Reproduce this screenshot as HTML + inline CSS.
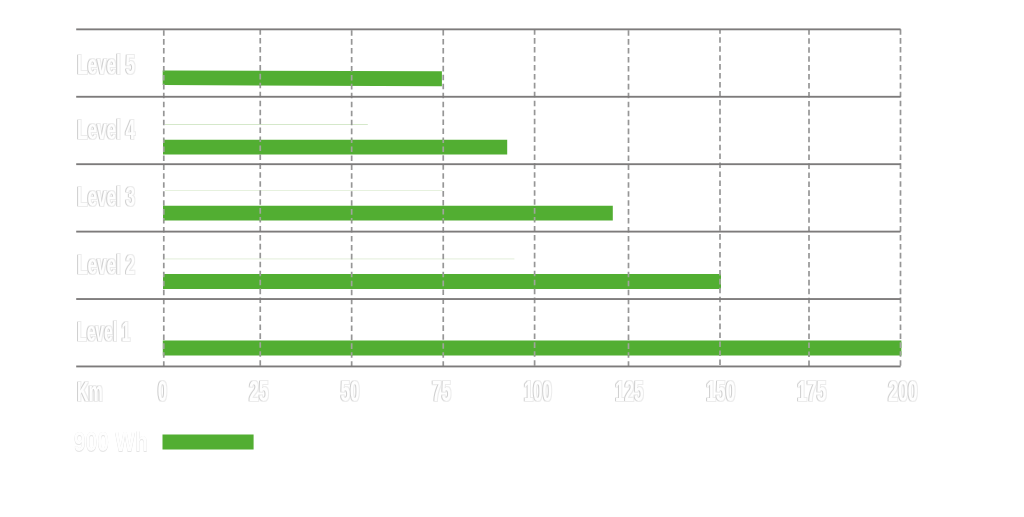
<!DOCTYPE html>
<html lang="en">
<head>
<meta charset="utf-8">
<title>Range chart</title>
<style>
html,body{margin:0;padding:0;background:#fff;}
body{width:1024px;height:517px;overflow:hidden;position:relative;font-family:"Liberation Sans",sans-serif;}
svg{position:absolute;left:0;top:0;display:block;}
.t{font-family:"Liberation Sans",sans-serif;font-weight:bold;font-size:27.2px;fill:#fefefe;}
.ax{font-size:29.4px;}

</style>
</head>
<body>
<svg width="1024" height="517" viewBox="0 0 1024 517">
<defs>
<filter id="fr" filterUnits="userSpaceOnUse" x="0" y="0" width="1024" height="517" color-interpolation-filters="sRGB">
<feMorphology in="SourceAlpha" operator="dilate" radius="0.5" result="d0"/>
<feFlood flood-color="#000" flood-opacity="0.075" result="c0"/>
<feComposite in="c0" in2="d0" operator="in" result="s0"/>
<feFlood flood-color="#000" flood-opacity="0.13" result="c1"/>
<feOffset in="SourceAlpha" dx="-0.75" dy="0" result="o1"/>
<feComposite in="c1" in2="o1" operator="in" result="s1"/>
<feMerge><feMergeNode in="s0"/><feMergeNode in="s1"/><feMergeNode in="SourceGraphic"/></feMerge>
</filter>
<filter id="fr2" filterUnits="userSpaceOnUse" x="0" y="0" width="1024" height="517" color-interpolation-filters="sRGB">
<feFlood flood-color="#000" flood-opacity="0.10" result="c1"/>
<feOffset in="SourceAlpha" dx="0" dy="-0.5" result="o1"/>
<feComposite in="c1" in2="o1" operator="in" result="s1"/>
<feOffset in="SourceAlpha" dx="0" dy="0.5" result="o2"/>
<feComposite in="c1" in2="o2" operator="in" result="s2"/>
<feMerge><feMergeNode in="s2"/><feMergeNode in="s1"/><feMergeNode in="SourceGraphic"/></feMerge>
</filter>
<clipPath id="bc"><polygon points="162.7,70.4 441.9,71.25 441.9,86.2 162.7,85.1"/><polygon points="163.0,139.7 507.2,139.8 507.2,154.55 163.0,154.4"/><polygon points="163.0,205.7 612.8,205.75 612.8,220.6 163.0,220.6"/><polygon points="163.0,274.1 721.0,273.9 721.0,289.0 163.0,289.0"/><polygon points="162.8,340.4 901.4,340.4 901.4,355.5 162.8,355.5"/></clipPath></defs>
<rect x="164.9" y="124.05" width="202.90" height="0.7" fill="#c3deb4"/>
<rect x="164.9" y="190.00" width="277.60" height="0.7" fill="#dcebd0"/>
<rect x="164.9" y="258.25" width="349.50" height="1.3" fill="#e9f2e2"/>
<g>
<line x1="163.78" y1="29.0" x2="163.78" y2="366.0" stroke="#969696" stroke-width="1.7" stroke-dasharray="5.55 3.398" stroke-dashoffset="7.796"/>
<line x1="260.25" y1="29.0" x2="260.25" y2="366.0" stroke="#969696" stroke-width="1.7" stroke-dasharray="5.55 3.398" stroke-dashoffset="8.826"/>
<line x1="351.66" y1="29.0" x2="351.66" y2="366.0" stroke="#969696" stroke-width="1.7" stroke-dasharray="5.55 3.398" stroke-dashoffset="7.796"/>
<line x1="443.25" y1="29.0" x2="443.25" y2="366.0" stroke="#969696" stroke-width="1.7" stroke-dasharray="5.55 3.398" stroke-dashoffset="7.896"/>
<line x1="534.6" y1="29.0" x2="534.6" y2="366.0" stroke="#969696" stroke-width="1.7" stroke-dasharray="5.55 3.398" stroke-dashoffset="8.796"/>
<line x1="628.5" y1="29.0" x2="628.5" y2="366.0" stroke="#969696" stroke-width="1.7" stroke-dasharray="5.55 3.398" stroke-dashoffset="7.796"/>
<line x1="720.0" y1="29.0" x2="720.0" y2="366.0" stroke="#969696" stroke-width="1.7" stroke-dasharray="5.55 3.398" stroke-dashoffset="0.698"/>
<line x1="809.0" y1="29.0" x2="809.0" y2="366.0" stroke="#969696" stroke-width="1.7" stroke-dasharray="5.55 3.398" stroke-dashoffset="8.646"/>
<line x1="900.5" y1="29.0" x2="900.5" y2="366.0" stroke="#969696" stroke-width="1.7" stroke-dasharray="5.55 3.398" stroke-dashoffset="8.796"/>
</g>
<polygon points="162.7,70.4 441.9,71.25 441.9,86.2 162.7,85.1" fill="#52ae32"/>
<polygon points="163.0,139.7 507.2,139.8 507.2,154.55 163.0,154.4" fill="#52ae32"/>
<polygon points="163.0,205.7 612.8,205.75 612.8,220.6 163.0,220.6" fill="#52ae32"/>
<polygon points="163.0,274.1 721.0,273.9 721.0,289.0 163.0,289.0" fill="#52ae32"/>
<polygon points="162.8,340.4 901.4,340.4 901.4,355.5 162.8,355.5" fill="#52ae32"/>
<polygon points="162.5,434.4 253.6,434.4 253.6,449.45 162.5,449.45" fill="#52ae32"/>
<g clip-path="url(#bc)">
<line x1="163.78" y1="29.0" x2="163.78" y2="366.0" stroke="#a0a59b" stroke-width="1.7" stroke-dasharray="5.55 3.398" stroke-dashoffset="7.796"/>
<line x1="260.25" y1="29.0" x2="260.25" y2="366.0" stroke="#a0a59b" stroke-width="1.7" stroke-dasharray="5.55 3.398" stroke-dashoffset="8.826"/>
<line x1="351.66" y1="29.0" x2="351.66" y2="366.0" stroke="#a0a59b" stroke-width="1.7" stroke-dasharray="5.55 3.398" stroke-dashoffset="7.796"/>
<line x1="443.25" y1="29.0" x2="443.25" y2="366.0" stroke="#a0a59b" stroke-width="1.7" stroke-dasharray="5.55 3.398" stroke-dashoffset="7.896"/>
<line x1="534.6" y1="29.0" x2="534.6" y2="366.0" stroke="#a0a59b" stroke-width="1.7" stroke-dasharray="5.55 3.398" stroke-dashoffset="8.796"/>
<line x1="628.5" y1="29.0" x2="628.5" y2="366.0" stroke="#a0a59b" stroke-width="1.7" stroke-dasharray="5.55 3.398" stroke-dashoffset="7.796"/>
<line x1="720.0" y1="29.0" x2="720.0" y2="366.0" stroke="#a0a59b" stroke-width="1.7" stroke-dasharray="5.55 3.398" stroke-dashoffset="0.698"/>
<line x1="809.0" y1="29.0" x2="809.0" y2="366.0" stroke="#a0a59b" stroke-width="1.7" stroke-dasharray="5.55 3.398" stroke-dashoffset="8.646"/>
<line x1="900.5" y1="29.0" x2="900.5" y2="366.0" stroke="#a0a59b" stroke-width="1.7" stroke-dasharray="5.55 3.398" stroke-dashoffset="8.796"/>
</g>
<rect x="76.2" y="28.42" width="824.40" height="1.86" fill="#7d7b7b"/>
<rect x="76.2" y="95.84" width="824.40" height="1.86" fill="#7d7b7b"/>
<rect x="76.2" y="163.26" width="824.40" height="1.86" fill="#7d7b7b"/>
<rect x="76.2" y="230.68" width="824.40" height="1.86" fill="#7d7b7b"/>
<rect x="76.2" y="298.10" width="824.40" height="1.86" fill="#7d7b7b"/>
<rect x="76.2" y="365.52" width="824.40" height="1.86" fill="#7d7b7b"/>
<g filter="url(#fr)">
<text class="t" x="77.1" y="73.6" textLength="57.8" lengthAdjust="spacingAndGlyphs">Level 5</text>
<text class="t" x="77.1" y="138.8" textLength="57.8" lengthAdjust="spacingAndGlyphs">Level 4</text>
<text class="t" x="77.1" y="206.4" textLength="57.8" lengthAdjust="spacingAndGlyphs">Level 3</text>
<text class="t" x="77.1" y="274.0" textLength="57.8" lengthAdjust="spacingAndGlyphs">Level 2</text>
<text class="t" x="77.1" y="341.1" textLength="53.0" lengthAdjust="spacingAndGlyphs">Level 1</text>
<text class="t" x="76.9" y="400.9" textLength="25.7" lengthAdjust="spacingAndGlyphs">Km</text>
<text class="t ax" x="157.75" y="401.3" textLength="9.3" lengthAdjust="spacingAndGlyphs">0</text>
<text class="t ax" x="248.9" y="401.3" textLength="19.6" lengthAdjust="spacingAndGlyphs">25</text>
<text class="t ax" x="340.4" y="401.3" textLength="19.1" lengthAdjust="spacingAndGlyphs">50</text>
<text class="t ax" x="431.9" y="401.3" textLength="19.0" lengthAdjust="spacingAndGlyphs">75</text>
<text class="t ax" x="523.75" y="401.3" textLength="28.1" lengthAdjust="spacingAndGlyphs">100</text>
<text class="t ax" x="615" y="401.3" textLength="28.4" lengthAdjust="spacingAndGlyphs">125</text>
<text class="t ax" x="706" y="401.3" textLength="29.4" lengthAdjust="spacingAndGlyphs">150</text>
<text class="t ax" x="796.9" y="401.3" textLength="29.6" lengthAdjust="spacingAndGlyphs">175</text>
<text class="t ax" x="888" y="401.3" textLength="29.8" lengthAdjust="spacingAndGlyphs">200</text>
</g>
<g filter="url(#fr2)">
<text class="t lg" x="73.7" y="451.4" textLength="74.3" lengthAdjust="spacingAndGlyphs">900 Wh</text>
</g>
</svg>
</body>
</html>
